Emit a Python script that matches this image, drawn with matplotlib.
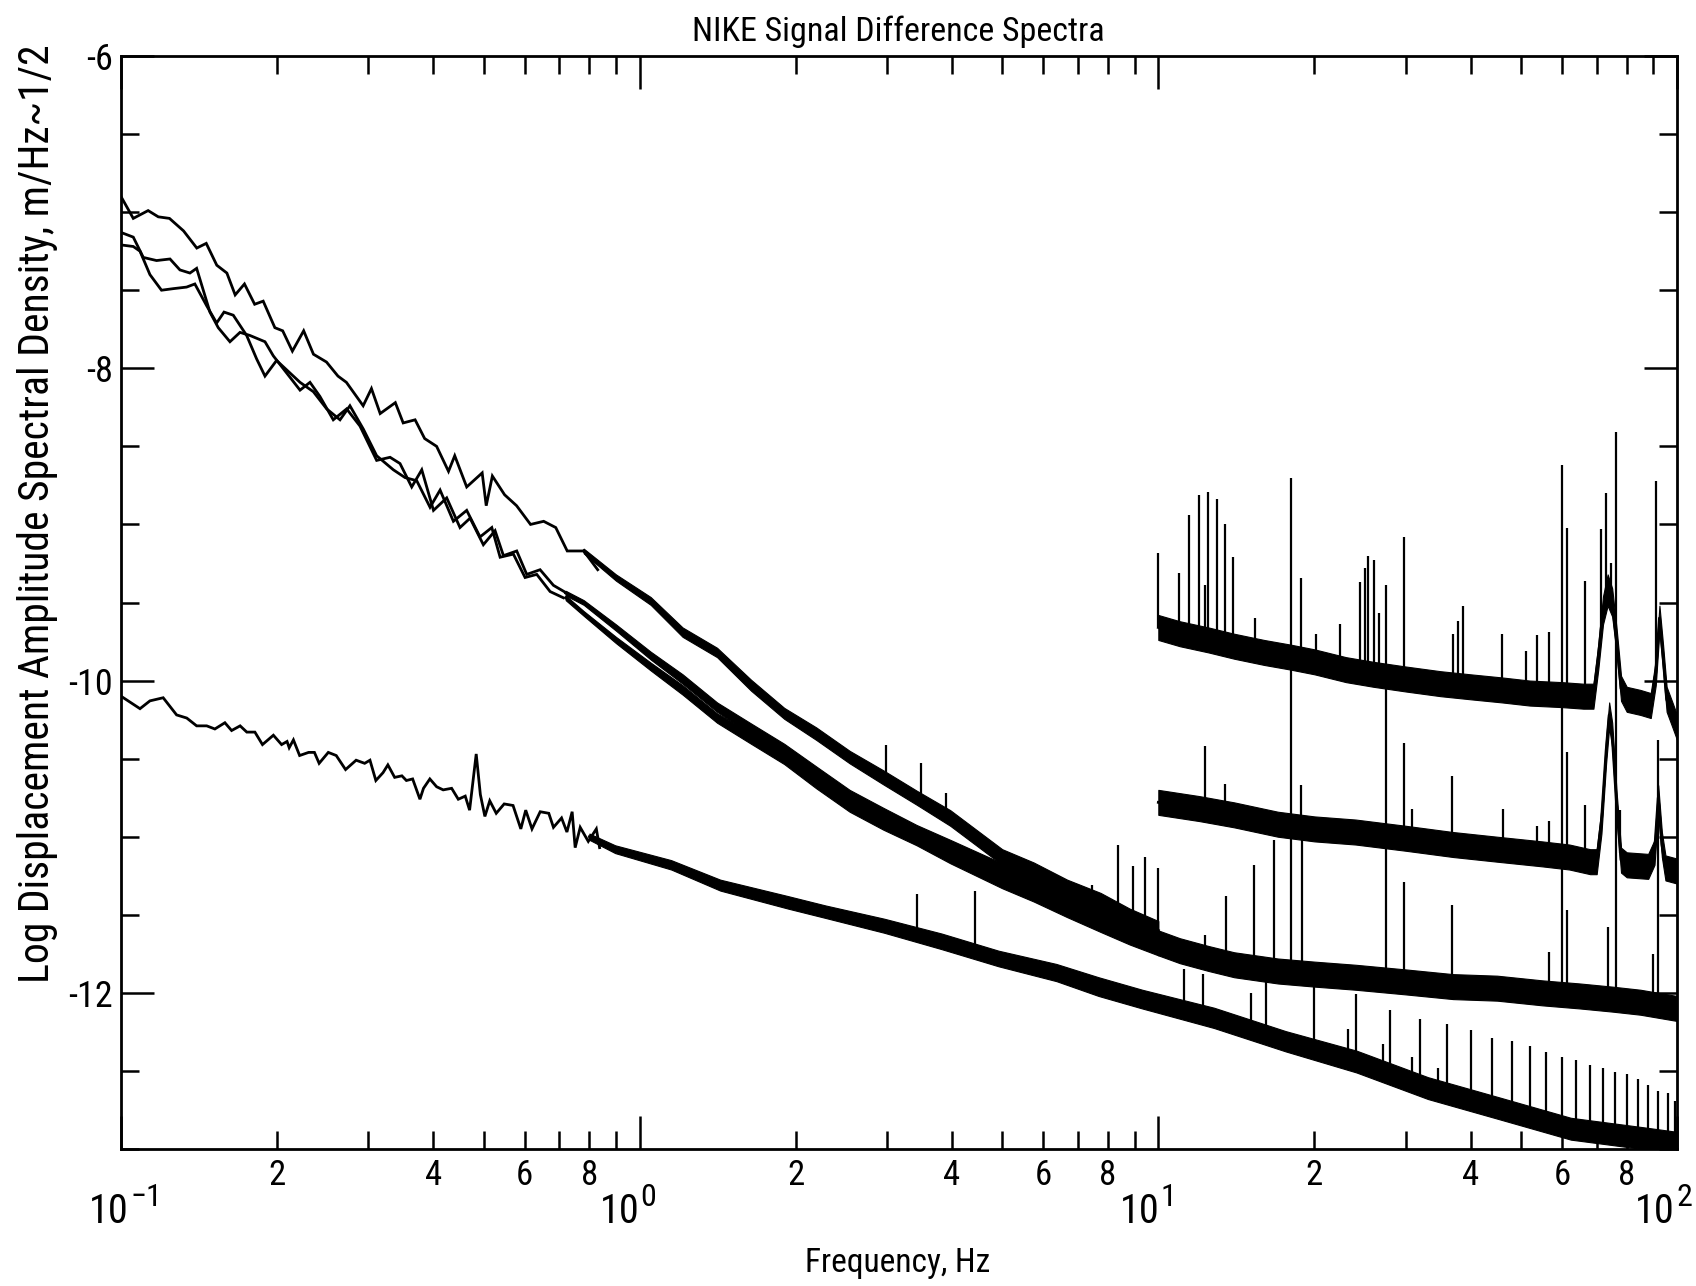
import numpy as np
import matplotlib
matplotlib.use("Agg")
import matplotlib.pyplot as plt
from matplotlib import font_manager as fm
from matplotlib.ticker import FixedLocator, MultipleLocator, NullFormatter, LogLocator, FuncFormatter
from matplotlib.transforms import ScaledTranslation

# ---------------- data ----------------
# Low-frequency spectrum 1 (top curve), thin-line part
lf1_f = [0.100, 0.1056, 0.1128, 0.118, 0.124, 0.132, 0.140, 0.146, 0.153, 0.160, 0.166, 0.173,
         0.181, 0.188, 0.198, 0.205, 0.214, 0.225, 0.235, 0.249, 0.262, 0.272, 0.293, 0.304,
         0.316, 0.338, 0.350, 0.369, 0.385, 0.406, 0.428, 0.440, 0.464, 0.497, 0.506, 0.520,
         0.549, 0.579, 0.616, 0.653, 0.689, 0.725, 0.780, 0.830]
lf1_v = [-6.90, -7.04, -6.99, -7.03, -7.04, -7.12, -7.23, -7.20, -7.34, -7.39, -7.53, -7.46,
         -7.59, -7.57, -7.74, -7.76, -7.89, -7.76, -7.91, -7.96, -8.05, -8.09, -8.24, -8.13,
         -8.29, -8.22, -8.35, -8.33, -8.45, -8.50, -8.66, -8.56, -8.76, -8.67, -8.88, -8.69,
         -8.81, -8.88, -9.00, -8.98, -9.02, -9.17, -9.17, -9.29]
# noisy part (centre and half-width of the trace band)
lf1b_f = [0.78, 0.90, 1.05, 1.21, 1.41, 1.64, 1.90, 2.19, 2.54, 2.95, 3.42, 3.97, 5.0, 5.75, 6.67, 7.74, 8.8, 10.0]
lf1b_v = [-9.17, -9.34, -9.49, -9.69, -9.82, -10.03, -10.21, -10.34, -10.49, -10.62, -10.75, -10.88,
          -11.13, -11.22, -11.33, -11.42, -11.52, -11.60]
lf1b_w = [0.015, 0.02, 0.025, 0.03, 0.03, 0.035, 0.035, 0.04, 0.04, 0.045, 0.045, 0.05,
          0.05, 0.055, 0.055, 0.06, 0.06, 0.06]

# Low-frequency spectrum 2
lf2_f = [0.100, 0.1056, 0.1104, 0.1171, 0.1243, 0.1299, 0.1358, 0.1399, 0.1484, 0.1540, 0.1622,
         0.1696, 0.1773, 0.1895, 0.1966, 0.2086, 0.2214, 0.2314, 0.2418, 0.2566, 0.2723, 0.2889,
         0.3111, 0.3302, 0.3451, 0.3635, 0.3801, 0.4004, 0.4246, 0.4504, 0.4710, 0.4996, 0.5263,
         0.5462, 0.5794, 0.6057, 0.6427, 0.6819, 0.7235]
lf2_v = [-7.13, -7.16, -7.29, -7.31, -7.30, -7.37, -7.39, -7.36, -7.64, -7.74, -7.83,
         -7.77, -7.79, -7.83, -7.92, -8.03, -8.14, -8.09, -8.18, -8.33, -8.26, -8.37,
         -8.59, -8.57, -8.61, -8.76, -8.65, -8.91, -8.83, -9.02, -8.96, -9.13, -9.04,
         -9.20, -9.17, -9.32, -9.29, -9.39, -9.44]
lf2b_f = [0.72, 0.78, 0.90, 1.05, 1.21, 1.41, 1.64, 1.90, 2.19, 2.54, 2.95, 3.42, 3.97, 5.0, 5.75, 6.67, 7.74, 8.8, 10.0]
lf2b_v = [-9.44, -9.50, -9.66, -9.84, -9.99, -10.17, -10.31, -10.44, -10.59, -10.74, -10.86, -10.97,
          -11.07, -11.22, -11.30, -11.40, -11.50, -11.58, -11.66]
lf2b_w = [0.015, 0.015, 0.02, 0.025, 0.03, 0.03, 0.035, 0.035, 0.04, 0.04, 0.045, 0.045,
          0.05, 0.05, 0.055, 0.055, 0.06, 0.06, 0.06]

# Low-frequency spectrum 3
lf3_f = [0.100, 0.1056, 0.1088, 0.1137, 0.1197, 0.1261, 0.1338, 0.1388, 0.1463, 0.1529, 0.1580,
         0.1646, 0.1747, 0.1826, 0.1895, 0.1995, 0.2086, 0.2214, 0.2349, 0.2492, 0.2644, 0.2763,
         0.2933, 0.3111, 0.3350, 0.3529, 0.3717, 0.3943, 0.4123, 0.4374, 0.4640, 0.4923, 0.5187,
         0.5382, 0.5709, 0.6013, 0.6333, 0.6720, 0.7129]
lf3_v = [-7.21, -7.22, -7.25, -7.40, -7.50, -7.49, -7.48, -7.46, -7.60, -7.71, -7.64,
         -7.66, -7.79, -7.94, -8.05, -7.95, -8.01, -8.09, -8.15, -8.26, -8.33, -8.24,
         -8.39, -8.56, -8.65, -8.70, -8.72, -8.89, -8.78, -8.98, -8.91, -9.08, -9.02,
         -9.21, -9.19, -9.34, -9.32, -9.43, -9.47]
lf3b_f = lf2b_f
lf3b_v = [-9.47, -9.57, -9.74, -9.91, -10.06, -10.24, -10.37, -10.50, -10.65, -10.80, -10.91, -11.01,
          -11.12, -11.28, -11.36, -11.46, -11.55, -11.63, -11.70]
lf3b_w = lf2b_w

# spikes riding on the low-frequency spectra (freq, top)
lf_spk_f = [2.99, 3.49, 3.90, 6.97, 7.45, 8.35, 8.92, 9.43]
lf_spk_t = [-10.41, -10.53, -10.72, -11.30, -11.31, -11.05, -11.19, -11.13]

# Lowest (reference) spectrum, 0.1 - 100 Hz
ref_f = [0.100, 0.1088, 0.1137, 0.1206, 0.128, 0.1339, 0.1399, 0.1463, 0.1517, 0.1586, 0.1634,
         0.1697, 0.1748, 0.1812, 0.1874, 0.1967, 0.204, 0.209, 0.211, 0.215, 0.221, 0.230,
         0.236, 0.241, 0.251, 0.260, 0.271, 0.284, 0.295, 0.302, 0.310, 0.320, 0.327, 0.337,
         0.348, 0.355, 0.365, 0.377, 0.383, 0.394, 0.406, 0.418, 0.434, 0.447, 0.461, 0.470,
         0.484, 0.493, 0.503, 0.514, 0.529, 0.548, 0.570, 0.590, 0.603, 0.620, 0.643, 0.668,
         0.682, 0.707, 0.724, 0.741, 0.751, 0.768, 0.796, 0.825, 0.837]
ref_v = [-10.10, -10.18, -10.13, -10.11, -10.22, -10.24, -10.29, -10.29, -10.31, -10.27, -10.32,
         -10.29, -10.33, -10.33, -10.41, -10.35, -10.41, -10.39, -10.43, -10.38, -10.48, -10.46,
         -10.46, -10.53, -10.46, -10.48, -10.57, -10.51, -10.53, -10.51, -10.64, -10.59, -10.54, -10.62,
         -10.61, -10.64, -10.63, -10.76, -10.69, -10.63, -10.68, -10.70, -10.69, -10.76, -10.74, -10.83,
         -10.47, -10.73, -10.87, -10.77, -10.85, -10.79, -10.80, -10.95, -10.83, -10.95, -10.84, -10.85,
         -10.94, -10.88, -10.97, -10.84, -11.07, -10.94, -11.03, -10.95, -11.07]
refb_f = [0.80, 0.897, 1.15, 1.43, 1.93, 2.28, 2.96, 3.82, 4.92, 6.36, 7.67, 9.31, 12.8, 17.6,
          24.1, 33.1, 45.5, 62.4, 85.8, 100.0]
refb_v = [-11.00, -11.08, -11.18, -11.31, -11.42, -11.48, -11.57, -11.67, -11.78, -11.87, -11.96,
          -12.04, -12.16, -12.31, -12.44, -12.61, -12.74, -12.87, -12.93, -12.96]
refb_w = [0.02, 0.025, 0.03, 0.035, 0.04, 0.04, 0.045, 0.05, 0.05, 0.055, 0.06, 0.06, 0.065,
          0.065, 0.07, 0.07, 0.07, 0.07, 0.07, 0.07]
ref_spk_f = [3.43, 4.43, 11.2, 12.2, 15.1, 16.1, 20.0, 23.2, 27.1, 30.9, 34.6,
             24, 28, 32, 36, 40, 44, 48, 52, 56, 60, 64, 68, 72, 76, 80, 84, 88, 92, 96, 99]
ref_spk_t = [-11.37, -11.35, -11.85, -11.88, -12.00, -11.92, -11.95, -12.23, -12.33, -12.41, -12.48,
             -12.01, -12.11, -12.17, -12.20, -12.24, -12.29, -12.31, -12.34, -12.38, -12.41,
             -12.43, -12.46, -12.48, -12.51, -12.52, -12.55, -12.59, -12.63, -12.64, -12.69]

# High-frequency spectrum 1 (top, 10 - 100 Hz)
hf1_f = [10.0, 11, 12.5, 14, 16, 18, 20, 23, 26, 30, 35, 40, 46, 52, 60, 66, 69,
         70.5, 72, 73.5, 75, 76.5, 78, 80, 85, 89, 91, 92.5, 94, 95.5, 98, 100]
hf1_v = [-9.66, -9.70, -9.74, -9.78, -9.82, -9.85, -9.88, -9.93, -9.96, -9.99, -10.02, -10.04,
         -10.06, -10.08, -10.09, -10.10, -10.10, -9.85, -9.55, -9.42, -9.50, -9.75, -10.05,
         -10.12, -10.14, -10.16, -9.95, -9.60, -9.85, -10.12, -10.22, -10.30]
hf1_w = [0.08] * 17 + [0.08, 0.09, 0.10, 0.09, 0.08, 0.08] + [0.08] * 9

hf1_spk_f = [10.0, 10.98, 11.48, 11.97, 12.32, 12.47, 12.95, 13.43, 13.96, 15.33, 18.86, 20.17,
             22.39, 24.43, 25.02, 25.42, 26.04, 26.58, 29.71, 36.96, 37.8, 38.71, 46.06, 51.04,
             53.77, 56.60, 61.50, 66.50, 71.27, 73.05, 74.65, 91.07]
hf1_spk_t = [-9.18, -9.31, -8.94, -8.81, -9.39, -8.79, -8.84, -9.00, -9.21, -9.60, -9.34, -9.70,
             -9.64, -9.37, -9.28, -9.20, -9.23, -9.57, -9.08, -9.70, -9.62, -9.52, -9.70, -9.81,
             -9.71, -9.69, -9.02, -9.36, -9.03, -8.80, -9.25, -8.72]

# High-frequency spectrum 2 (middle)
hf2_f = [10.0, 12, 14, 17, 20, 24, 30, 37, 45, 55, 62, 68, 70, 71.5, 73, 74, 75, 76.5, 78,
         80, 88, 90.5, 92, 93.5, 95, 100]
hf2_v = [-10.78, -10.82, -10.86, -10.92, -10.95, -10.97, -11.01, -11.05, -11.08, -11.11, -11.13,
         -11.16, -11.16, -10.90, -10.45, -10.22, -10.35, -10.80, -11.15, -11.18, -11.19, -11.10,
         -10.75, -11.05, -11.20, -11.22]
hf2_w = [0.08] * 26
hf2_spk_f = [12.32, 13.47, 18.86, 29.71, 30.8, 36.9, 46.1, 53.7, 56.6, 61.5, 66.5, 77.8]
hf2_spk_t = [-10.42, -10.66, -10.67, -10.40, -10.82, -10.61, -10.82, -10.93, -10.90, -10.46, -10.80, -10.83]

# High-frequency spectrum 3 (bottom of the three)
hf3_f = [10.0, 11, 12.5, 14, 17, 20, 24, 30, 37, 45, 55, 65, 75, 85, 100]
hf3_v = [-11.68, -11.73, -11.78, -11.82, -11.86, -11.88, -11.90, -11.93, -11.96, -11.97, -12.00,
         -12.02, -12.04, -12.06, -12.10]
hf3_w = [0.08] * 15
hf3_spk_f = [10.0, 12.3, 13.5, 15.3, 16.7, 18.9, 29.7, 36.9, 56.6, 61.5, 73.5, 89.7,
             18.0, 27.5, 59.9, 76.4, 91.8]
hf3_spk_t = [-11.20, -11.63, -11.38, -11.18, -11.02, -10.98, -11.29, -11.44, -11.74, -11.47, -11.58, -11.75,
             -8.70, -9.39, -8.62, -8.41, -10.38]

y_major = [-12, -10, -8, -6]
y_major_labels = ["-12", "-10", "-8", "-6"]
x_decades = [0.1, 1.0, 10.0, 100.0]
x_decade_exp = ["\u22121", "0", "1", "2"]

title = "NIKE Signal Difference Spectra"
xlabel = "Frequency, Hz"
ylabel = "Log Displacement Amplitude Spectral Density, m/Hz~1/2"

# ---------------- styling ----------------
names = {f.name for f in fm.fontManager.ttflist}
FONT = next((n for n in ["Liberation Sans Narrow", "Roboto Condensed", "Liberation Sans"] if n in names),
            "DejaVu Sans")
plt.rcParams["font.family"] = [FONT, "DejaVu Sans"]

W, H = 1696, 1286
fig = plt.figure(figsize=(W / 100, H / 100), dpi=100)
L, R, T, B = 121, 1677, 56, 1149
ax = fig.add_axes([L / W, 1 - B / H, (R - L) / W, (B - T) / H])
ax.set_xscale("log")
ax.set_xlim(0.1, 100)
ax.set_ylim(-13, -6)

LW = 2.0


def draw_line(f, v):
    ax.plot(f, v, color="k", lw=LW, solid_joinstyle="miter")


def draw_band(f, v, w):
    f = np.asarray(f, float)
    v = np.asarray(v, float)
    w = np.asarray(w, float)
    ax.fill_between(f, v - w, v + w, color="k", lw=0.8)
    ax.plot(f, v, color="k", lw=LW)


def draw_spikes(bf, bv, sf, st):
    base = np.interp(np.log10(sf), np.log10(bf), bv)
    ax.vlines(sf, base, st, color="k", lw=1.6)


draw_line(lf1_f, lf1_v)
draw_band(lf1b_f, lf1b_v, lf1b_w)
draw_line(lf2_f, lf2_v)
draw_band(lf2b_f, lf2b_v, lf2b_w)
draw_line(lf3_f, lf3_v)
draw_band(lf3b_f, lf3b_v, lf3b_w)
draw_spikes(lf1b_f, lf1b_v, lf_spk_f, lf_spk_t)

draw_line(ref_f, ref_v)
draw_band(refb_f, refb_v, refb_w)
draw_spikes(refb_f, refb_v, ref_spk_f, ref_spk_t)

draw_band(hf1_f, hf1_v, hf1_w)
draw_spikes(hf1_f, hf1_v, hf1_spk_f, hf1_spk_t)
draw_band(hf2_f, hf2_v, hf2_w)
draw_spikes(hf2_f, hf2_v, hf2_spk_f, hf2_spk_t)
draw_band(hf3_f, hf3_v, hf3_w)
draw_spikes(hf3_f, hf3_v, hf3_spk_f, hf3_spk_t)

for s in ax.spines.values():
    s.set_linewidth(2.0)

ax.yaxis.set_major_locator(FixedLocator(y_major))
ax.set_yticklabels(y_major_labels)
ax.yaxis.set_minor_locator(MultipleLocator(0.5))
ax.xaxis.set_major_locator(LogLocator(base=10, numticks=10))
ax.xaxis.set_major_formatter(NullFormatter())
ax.xaxis.set_minor_locator(LogLocator(base=10, subs=np.arange(2, 10), numticks=40))


def minor_fmt(x, pos):
    m = int(round(x / 10 ** np.floor(np.log10(x) + 1e-9)))
    return str(m) if m in (2, 4, 6, 8) else ""


ax.xaxis.set_minor_formatter(FuncFormatter(minor_fmt))
ax.tick_params(which="both", direction="in", top=True, right=True, width=1.8, colors="k")
ax.tick_params(which="major", length=24)
ax.tick_params(which="minor", length=13)
ax.tick_params(axis="y", which="major", labelsize=26, pad=6)
ax.tick_params(axis="x", which="minor", labelsize=25, pad=7)

trans = ax.get_xaxis_transform()
dx10 = [8, 0, 1, -2]
for d, e, o in zip(x_decades, x_decade_exp, dx10):
    t1 = trans + ScaledTranslation(o / 100, 0, fig.dpi_scale_trans)
    ax.text(d, -0.0575, "10", transform=t1, ha="right", va="center", fontsize=29)
    t2 = trans + ScaledTranslation((o + 1) / 100, 0, fig.dpi_scale_trans)
    ax.text(d, -0.0445, e, transform=t2, ha="left", va="center", fontsize=23)

fig.text(0.5295, 1 - 32 / H, title, ha="center", va="center", fontsize=24.5)
fig.text(0.5295, 1 - 1263 / H, xlabel, ha="center", va="center", fontsize=24)
fig.text(38 / W, 1 - 514 / H, ylabel, ha="center", va="center", rotation=90, fontsize=30)

fig.savefig("out.png", dpi=100)
print(FONT)
